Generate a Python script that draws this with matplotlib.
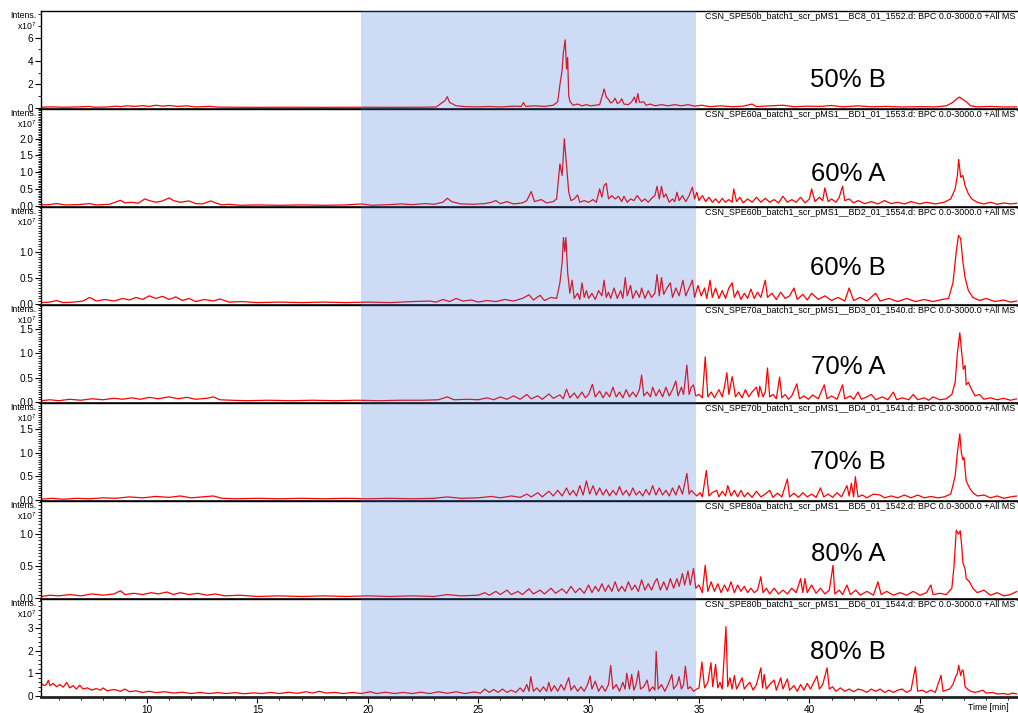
import matplotlib
matplotlib.use("Agg")
import matplotlib.pyplot as plt
from matplotlib.ticker import MultipleLocator, FixedLocator, FormatStrFormatter
import numpy as np

plt.rcParams['font.family'] = ['Liberation Sans', 'DejaVu Sans']
plt.rcParams['mathtext.default'] = 'regular'

# BPC traces, (time [min], intensity [x10^7])
p50b = [(5.2,0.03),(5.7,0.06),(6.2,0.03),(6.8,0.05),(7.4,0.1),(7.6,0.03),(8.2,0.05),(8.6,0.12),(8.8,0.08),(9.1,0.15),(9.4,0.1),(9.8,0.16),(10.1,0.1),(10.4,0.2),(10.7,0.12),(11.0,0.18),(11.4,0.1),(11.8,0.15),(12.2,0.05),(12.8,0.1),(13.2,0.04),(14.0,0.03),(15.0,0.02),(16.5,0.03),(18.0,0.02),(19.5,0.03),(21.0,0.02),(22.5,0.03),(23.1,0.05),(23.35,0.4),(23.5,0.6),(23.6,0.93),(23.7,0.45),(23.85,0.3),(24.0,0.15),(24.4,0.08),(25.0,0.06),(25.5,0.09),(26.0,0.05),(26.6,0.12),(26.95,0.1),(27.05,0.43),(27.15,0.1),(27.5,0.15),(28.0,0.1),(28.4,0.2),(28.6,0.5),(28.7,1.95),(28.8,3.2),(28.85,4.6),(28.94,5.8),(29.0,3.3),(29.05,4.3),(29.1,1.0),(29.16,0.5),(29.3,0.2),(29.5,0.3),(29.7,0.15),(29.9,0.25),(30.1,0.15),(30.3,0.2),(30.5,0.25),(30.6,0.9),(30.7,1.6),(30.8,0.9),(30.9,0.7),(31.0,0.4),(31.1,0.5),(31.2,0.8),(31.3,0.35),(31.4,0.45),(31.5,0.75),(31.6,0.3),(31.8,0.25),(31.95,0.5),(32.07,0.9),(32.15,0.4),(32.23,1.2),(32.3,0.45),(32.5,0.5),(32.6,0.2),(32.8,0.3),(33.0,0.15),(33.3,0.25),(33.6,0.15),(33.9,0.25),(34.2,0.15),(34.5,0.25),(34.8,0.12),(35.1,0.2),(35.5,0.08),(36.0,0.15),(36.5,0.07),(37.0,0.12),(37.4,0.3),(37.6,0.08),(38.2,0.15),(38.8,0.2),(39.3,0.07),(39.9,0.12),(40.5,0.1),(41.0,0.18),(41.5,0.06),(42.2,0.15),(42.8,0.07),(43.5,0.1),(44.2,0.05),(45.0,0.08),(45.7,0.06),(46.2,0.15),(46.5,0.45),(46.7,0.8),(46.8,0.9),(46.9,0.75),(47.1,0.5),(47.3,0.15),(47.6,0.06),(48.2,0.1),(48.8,0.05),(49.4,0.06)]

p60a = [(5.2,0.02),(5.6,0.03),(5.9,0.06),(6.3,0.02),(6.9,0.03),(7.4,0.06),(7.7,0.02),(8.3,0.04),(8.8,0.16),(9.0,0.08),(9.3,0.1),(9.6,0.07),(9.9,0.2),(10.1,0.15),(10.4,0.1),(10.7,0.14),(11.0,0.23),(11.2,0.15),(11.5,0.1),(11.9,0.14),(12.2,0.06),(12.5,0.05),(12.9,0.14),(13.1,0.08),(13.4,0.02),(13.7,0.04),(14.2,0.01),(15.0,0.02),(16.0,0.01),(17.0,0.02),(18.0,0.01),(19.0,0.02),(19.7,0.05),(20.2,0.01),(21.0,0.03),(21.5,0.05),(22.0,0.03),(22.6,0.06),(23.0,0.04),(23.4,0.1),(23.6,0.22),(23.8,0.12),(24.2,0.05),(24.8,0.04),(25.3,0.06),(25.6,0.1),(25.8,0.15),(26.0,0.06),(26.3,0.12),(26.6,0.05),(27.0,0.08),(27.2,0.15),(27.4,0.42),(27.55,0.12),(27.85,0.18),(28.1,0.08),(28.4,0.12),(28.55,0.2),(28.7,1.25),(28.8,0.9),(28.9,2.0),(29.0,1.2),(29.1,0.4),(29.2,0.15),(29.35,0.2),(29.5,0.32),(29.6,0.1),(29.8,0.15),(30.0,0.1),(30.2,0.18),(30.35,0.1),(30.5,0.5),(30.6,0.25),(30.7,0.6),(30.8,0.67),(30.9,0.2),(31.05,0.3),(31.2,0.2),(31.35,0.28),(31.5,0.12),(31.6,0.28),(31.75,0.1),(31.9,0.2),(32.05,0.15),(32.2,0.3),(32.4,0.12),(32.55,0.2),(32.7,0.1),(32.9,0.25),(33.0,0.3),(33.1,0.58),(33.2,0.2),(33.3,0.58),(33.4,0.25),(33.5,0.35),(33.65,0.1),(33.8,0.2),(33.9,0.12),(34.0,0.4),(34.1,0.15),(34.25,0.3),(34.4,0.12),(34.55,0.3),(34.7,0.55),(34.8,0.2),(34.9,0.4),(35.0,0.15),(35.15,0.3),(35.3,0.12),(35.45,0.25),(35.6,0.1),(35.75,0.2),(35.9,0.08),(36.05,0.22),(36.2,0.1),(36.35,0.18),(36.5,0.1),(36.57,0.5),(36.7,0.12),(36.85,0.25),(37.0,0.08),(37.2,0.2),(37.4,0.1),(37.6,0.25),(37.8,0.1),(38.0,0.22),(38.2,0.1),(38.4,0.18),(38.6,0.08),(38.8,0.28),(39.0,0.1),(39.2,0.18),(39.4,0.1),(39.6,0.25),(39.8,0.08),(40.0,0.2),(40.1,0.5),(40.25,0.12),(40.45,0.25),(40.6,0.15),(40.7,0.53),(40.85,0.12),(41.0,0.2),(41.2,0.1),(41.35,0.25),(41.5,0.58),(41.6,0.15),(41.8,0.2),(42.0,0.08),(42.2,0.15),(42.5,0.06),(42.8,0.12),(43.1,0.05),(43.4,0.15),(43.7,0.06),(44.0,0.1),(44.3,0.05),(44.6,0.12),(45.0,0.05),(45.3,0.1),(45.7,0.05),(46.1,0.1),(46.4,0.2),(46.6,0.5),(46.7,0.9),(46.76,1.38),(46.85,0.85),(46.95,0.9),(47.05,0.6),(47.2,0.35),(47.35,0.2),(47.6,0.1),(47.9,0.05),(48.2,0.1),(48.5,0.04),(48.8,0.08),(49.1,0.05),(49.4,0.07)]

p60b = [(5.2,0.02),(5.6,0.03),(5.9,0.06),(6.2,0.02),(6.7,0.03),(7.1,0.05),(7.4,0.12),(7.7,0.05),(8.1,0.08),(8.5,0.05),(8.9,0.1),(9.2,0.07),(9.5,0.12),(9.8,0.08),(10.1,0.15),(10.4,0.1),(10.7,0.14),(11.0,0.08),(11.3,0.13),(11.6,0.06),(11.9,0.1),(12.2,0.04),(12.6,0.08),(13.0,0.05),(13.3,0.09),(13.7,0.03),(14.3,0.04),(15.0,0.02),(16.0,0.03),(17.0,0.02),(18.0,0.03),(19.0,0.02),(20.0,0.03),(21.0,0.02),(22.0,0.04),(22.8,0.05),(23.1,0.03),(23.4,0.08),(23.7,0.04),(24.0,0.1),(24.3,0.05),(24.7,0.07),(25.0,0.03),(25.4,0.06),(25.8,0.04),(26.2,0.08),(26.6,0.05),(27.0,0.1),(27.3,0.17),(27.5,0.07),(27.8,0.16),(28.0,0.06),(28.3,0.12),(28.55,0.1),(28.7,0.4),(28.8,0.79),(28.86,1.27),(28.92,1.0),(28.97,1.27),(29.05,0.6),(29.15,0.2),(29.25,0.45),(29.35,0.1),(29.5,0.2),(29.6,0.08),(29.7,0.4),(29.8,0.12),(29.9,0.25),(30.0,0.1),(30.15,0.2),(30.3,0.08),(30.45,0.25),(30.6,0.15),(30.7,0.45),(30.8,0.12),(30.9,0.22),(31.0,0.1),(31.15,0.3),(31.3,0.1),(31.45,0.25),(31.55,0.1),(31.66,0.5),(31.75,0.15),(31.9,0.35),(32.0,0.1),(32.15,0.25),(32.3,0.12),(32.4,0.3),(32.55,0.1),(32.7,0.25),(32.85,0.12),(33.0,0.2),(33.1,0.56),(33.2,0.15),(33.3,0.5),(33.4,0.18),(33.55,0.3),(33.7,0.4),(33.8,0.12),(33.95,0.3),(34.1,0.15),(34.27,0.45),(34.4,0.15),(34.55,0.3),(34.7,0.45),(34.8,0.12),(34.95,0.35),(35.1,0.15),(35.25,0.3),(35.35,0.1),(35.5,0.45),(35.6,0.12),(35.75,0.3),(35.9,0.1),(36.05,0.25),(36.2,0.1),(36.35,0.3),(36.5,0.4),(36.6,0.12),(36.75,0.25),(36.9,0.08),(37.05,0.2),(37.2,0.1),(37.35,0.28),(37.5,0.1),(37.65,0.22),(37.8,0.12),(38.0,0.45),(38.1,0.12),(38.3,0.2),(38.5,0.08),(38.7,0.22),(38.9,0.1),(39.1,0.15),(39.3,0.3),(39.45,0.08),(39.7,0.18),(39.9,0.07),(40.1,0.2),(40.4,0.08),(40.7,0.15),(41.0,0.06),(41.3,0.12),(41.6,0.05),(41.8,0.3),(42.0,0.06),(42.3,0.12),(42.6,0.05),(43.0,0.2),(43.2,0.05),(43.6,0.1),(44.0,0.04),(44.4,0.1),(44.8,0.04),(45.2,0.08),(45.6,0.04),(46.0,0.08),(46.3,0.1),(46.5,0.4),(46.65,1.0),(46.75,1.31),(46.85,1.25),(46.95,0.8),(47.05,0.5),(47.2,0.25),(47.4,0.12),(47.7,0.06),(48.0,0.1),(48.4,0.04),(48.8,0.07),(49.1,0.03),(49.4,0.05)]

p70a = [(5.2,0.02),(5.6,0.04),(6.0,0.02),(6.5,0.05),(7.0,0.03),(7.5,0.06),(8.0,0.04),(8.5,0.07),(8.9,0.05),(9.3,0.08),(9.7,0.05),(10.1,0.09),(10.5,0.06),(11.0,0.1),(11.4,0.06),(11.8,0.09),(12.2,0.05),(12.7,0.07),(13.0,0.1),(13.3,0.04),(13.8,0.03),(14.5,0.02),(15.5,0.03),(16.5,0.02),(17.5,0.03),(18.5,0.02),(19.5,0.03),(20.5,0.02),(21.5,0.03),(22.5,0.03),(23.2,0.04),(23.6,0.1),(23.9,0.04),(24.5,0.05),(25.0,0.04),(25.4,0.08),(25.7,0.04),(26.0,0.1),(26.3,0.05),(26.6,0.12),(26.9,0.05),(27.2,0.15),(27.4,0.06),(27.7,0.12),(27.9,0.05),(28.2,0.16),(28.4,0.07),(28.7,0.14),(28.85,0.06),(29.0,0.26),(29.15,0.08),(29.35,0.18),(29.5,0.07),(29.7,0.2),(29.85,0.08),(30.0,0.15),(30.17,0.36),(30.3,0.1),(30.5,0.22),(30.65,0.08),(30.8,0.2),(30.95,0.1),(31.1,0.3),(31.25,0.1),(31.4,0.2),(31.55,0.08),(31.7,0.25),(31.85,0.1),(32.0,0.2),(32.15,0.1),(32.3,0.25),(32.4,0.55),(32.5,0.12),(32.65,0.2),(32.8,0.1),(32.9,0.3),(33.05,0.12),(33.2,0.25),(33.35,0.1),(33.5,0.3),(33.65,0.12),(33.8,0.25),(33.95,0.43),(34.05,0.12),(34.2,0.3),(34.3,0.15),(34.45,0.76),(34.55,0.15),(34.65,0.3),(34.75,0.35),(34.85,0.12),(35.0,0.15),(35.15,0.08),(35.28,0.93),(35.4,0.1),(35.55,0.2),(35.7,0.08),(35.9,0.25),(36.05,0.1),(36.15,0.3),(36.26,0.6),(36.35,0.15),(36.5,0.52),(36.55,0.4),(36.65,0.1),(36.8,0.2),(36.95,0.08),(37.1,0.25),(37.25,0.1),(37.4,0.2),(37.6,0.3),(37.7,0.1),(37.75,0.32),(37.9,0.1),(38.0,0.2),(38.1,0.7),(38.2,0.1),(38.35,0.15),(38.5,0.06),(38.65,0.51),(38.75,0.08),(38.9,0.15),(39.05,0.05),(39.2,0.12),(39.43,0.37),(39.55,0.06),(39.75,0.12),(39.95,0.05),(40.15,0.14),(40.4,0.06),(40.67,0.35),(40.8,0.06),(41.0,0.12),(41.25,0.05),(41.5,0.35),(41.6,0.06),(41.85,0.12),(42.0,0.05),(42.2,0.2),(42.35,0.05),(42.6,0.1),(42.8,0.15),(43.0,0.04),(43.3,0.1),(43.55,0.04),(43.8,0.2),(43.95,0.04),(44.2,0.08),(44.5,0.04),(44.7,0.15),(44.9,0.04),(45.2,0.08),(45.4,0.03),(45.6,0.1),(45.9,0.04),(46.2,0.06),(46.45,0.15),(46.6,0.4),(46.7,1.0),(46.81,1.43),(46.9,1.0),(46.97,0.67),(47.05,0.75),(47.1,0.35),(47.2,0.4),(47.35,0.25),(47.5,0.12),(47.7,0.15),(47.9,0.05),(48.2,0.08),(48.5,0.04),(48.8,0.07),(49.1,0.03),(49.4,0.06)]

p70b = [(5.2,0.01),(5.7,0.03),(6.2,0.01),(6.8,0.03),(7.4,0.02),(8.0,0.04),(8.6,0.03),(9.2,0.06),(9.8,0.04),(10.4,0.07),(11.0,0.05),(11.5,0.08),(12.0,0.04),(12.5,0.06),(13.0,0.08),(13.4,0.03),(14.0,0.02),(15.0,0.03),(16.0,0.02),(17.0,0.03),(18.0,0.02),(19.0,0.03),(20.0,0.02),(21.0,0.03),(22.0,0.02),(23.0,0.03),(23.6,0.06),(24.2,0.03),(25.0,0.04),(25.6,0.07),(26.0,0.04),(26.5,0.08),(26.9,0.05),(27.2,0.12),(27.4,0.06),(27.7,0.15),(27.9,0.06),(28.2,0.18),(28.4,0.08),(28.6,0.2),(28.8,0.08),(29.0,0.25),(29.15,0.1),(29.3,0.2),(29.45,0.08),(29.6,0.3),(29.75,0.1),(29.9,0.4),(30.05,0.12),(30.2,0.3),(30.35,0.1),(30.5,0.25),(30.65,0.1),(30.8,0.22),(30.95,0.08),(31.1,0.2),(31.25,0.1),(31.4,0.28),(31.55,0.1),(31.7,0.2),(31.85,0.08),(32.0,0.25),(32.15,0.1),(32.3,0.18),(32.45,0.08),(32.6,0.22),(32.75,0.1),(32.9,0.3),(33.05,0.1),(33.2,0.25),(33.35,0.1),(33.5,0.2),(33.65,0.08),(33.8,0.25),(33.95,0.1),(34.1,0.3),(34.25,0.12),(34.45,0.56),(34.55,0.12),(34.65,0.2),(34.75,0.15),(34.9,0.08),(35.05,0.15),(35.15,0.06),(35.33,0.62),(35.45,0.08),(35.6,0.15),(35.8,0.2),(35.9,0.06),(36.05,0.18),(36.2,0.08),(36.3,0.3),(36.45,0.08),(36.6,0.2),(36.75,0.06),(36.9,0.2),(37.05,0.06),(37.2,0.15),(37.4,0.05),(37.6,0.18),(37.8,0.06),(38.0,0.12),(38.2,0.2),(38.35,0.05),(38.55,0.14),(38.75,0.06),(39.0,0.44),(39.1,0.06),(39.3,0.14),(39.5,0.05),(39.7,0.15),(39.9,0.06),(40.1,0.12),(40.3,0.05),(40.5,0.25),(40.65,0.06),(40.85,0.12),(41.05,0.05),(41.25,0.15),(41.45,0.06),(41.7,0.3),(41.8,0.08),(41.9,0.35),(42.0,0.06),(42.08,0.49),(42.2,0.06),(42.4,0.1),(42.6,0.04),(42.9,0.12),(43.2,0.1),(43.4,0.04),(43.7,0.08),(44.0,0.04),(44.3,0.1),(44.6,0.04),(44.9,0.1),(45.2,0.04),(45.5,0.07),(45.8,0.04),(46.1,0.06),(46.4,0.12),(46.6,0.5),(46.7,1.0),(46.81,1.4),(46.88,1.0),(46.95,0.85),(47.0,0.9),(47.1,0.4),(47.25,0.25),(47.4,0.15),(47.6,0.08),(47.9,0.1),(48.2,0.04),(48.5,0.08),(48.8,0.03),(49.1,0.06),(49.4,0.08)]

p80a = [(5.2,0.02),(5.6,0.04),(6.0,0.03),(6.5,0.05),(7.0,0.03),(7.5,0.06),(8.0,0.04),(8.5,0.06),(8.8,0.11),(9.0,0.05),(9.4,0.07),(9.8,0.05),(10.2,0.08),(10.5,0.06),(10.9,0.09),(11.2,0.05),(11.5,0.08),(11.9,0.05),(12.3,0.07),(12.7,0.04),(13.1,0.06),(13.5,0.03),(14.2,0.04),(15.0,0.02),(16.0,0.03),(17.0,0.02),(18.0,0.03),(19.0,0.02),(20.0,0.03),(21.0,0.02),(22.0,0.03),(23.0,0.02),(23.6,0.05),(24.2,0.03),(25.0,0.04),(25.3,0.08),(25.5,0.04),(25.8,0.1),(26.0,0.05),(26.3,0.12),(26.5,0.05),(26.8,0.1),(27.0,0.05),(27.3,0.14),(27.5,0.06),(27.8,0.12),(28.0,0.06),(28.3,0.15),(28.5,0.07),(28.8,0.14),(29.0,0.07),(29.2,0.18),(29.4,0.08),(29.6,0.15),(29.8,0.07),(30.0,0.2),(30.15,0.08),(30.3,0.18),(30.45,0.1),(30.6,0.22),(30.75,0.1),(30.9,0.2),(31.05,0.1),(31.2,0.25),(31.35,0.1),(31.5,0.18),(31.65,0.1),(31.8,0.25),(31.95,0.12),(32.1,0.2),(32.25,0.1),(32.4,0.28),(32.55,0.12),(32.7,0.22),(32.85,0.12),(33.0,0.25),(33.1,0.3),(33.25,0.12),(33.4,0.25),(33.55,0.12),(33.7,0.3),(33.85,0.15),(34.0,0.3),(34.1,0.18),(34.25,0.38),(34.35,0.2),(34.5,0.42),(34.6,0.2),(34.75,0.46),(34.85,0.15),(35.0,0.2),(35.15,0.08),(35.28,0.51),(35.4,0.1),(35.55,0.25),(35.7,0.1),(35.85,0.22),(36.0,0.08),(36.15,0.2),(36.3,0.1),(36.45,0.25),(36.6,0.08),(36.75,0.2),(36.9,0.1),(37.05,0.18),(37.2,0.08),(37.35,0.15),(37.5,0.08),(37.65,0.12),(37.8,0.33),(37.9,0.08),(38.05,0.15),(38.2,0.06),(38.4,0.15),(38.6,0.06),(38.8,0.12),(39.0,0.06),(39.2,0.15),(39.4,0.08),(39.6,0.3),(39.7,0.08),(39.8,0.3),(39.9,0.08),(40.1,0.2),(40.3,0.07),(40.5,0.15),(40.7,0.06),(40.9,0.12),(41.07,0.51),(41.15,0.06),(41.35,0.12),(41.5,0.05),(41.7,0.2),(41.85,0.05),(42.1,0.12),(42.3,0.04),(42.6,0.1),(42.9,0.04),(43.1,0.25),(43.25,0.05),(43.5,0.1),(43.8,0.04),(44.1,0.08),(44.4,0.04),(44.7,0.1),(45.0,0.04),(45.3,0.08),(45.5,0.2),(45.6,0.05),(45.9,0.07),(46.2,0.05),(46.45,0.15),(46.55,0.5),(46.65,1.06),(46.75,1.0),(46.83,1.05),(46.9,0.8),(46.95,0.55),(47.05,0.45),(47.1,0.3),(47.25,0.25),(47.4,0.15),(47.6,0.08),(47.9,0.12),(48.2,0.04),(48.5,0.08),(48.8,0.03),(49.1,0.05),(49.4,0.1)]

p80b = [(5.2,0.55),(5.35,0.45),(5.45,0.51),(5.53,0.69),(5.6,0.45),(5.75,0.55),(5.9,0.4),(6.05,0.5),(6.2,0.38),(6.36,0.59),(6.5,0.35),(6.65,0.45),(6.8,0.3),(6.95,0.47),(7.1,0.3),(7.3,0.35),(7.5,0.25),(7.7,0.32),(7.9,0.25),(8.0,0.35),(8.2,0.22),(8.5,0.28),(8.8,0.2),(9.0,0.3),(9.2,0.18),(9.5,0.22),(9.8,0.15),(10.1,0.2),(10.4,0.14),(10.8,0.18),(11.2,0.12),(11.6,0.16),(12.0,0.1),(12.4,0.15),(12.8,0.1),(13.2,0.14),(13.6,0.1),(14.0,0.14),(14.4,0.09),(14.8,0.13),(15.2,0.1),(15.6,0.15),(16.0,0.1),(16.4,0.16),(16.8,0.11),(17.2,0.18),(17.5,0.12),(17.8,0.2),(18.1,0.12),(18.5,0.15),(18.9,0.1),(19.3,0.15),(19.7,0.1),(20.1,0.18),(20.4,0.1),(20.8,0.16),(21.2,0.1),(21.6,0.15),(22.0,0.1),(22.4,0.16),(22.8,0.1),(23.2,0.18),(23.6,0.11),(24.0,0.18),(24.4,0.1),(24.8,0.17),(25.1,0.12),(25.3,0.3),(25.5,0.15),(25.7,0.28),(25.9,0.15),(26.1,0.3),(26.3,0.15),(26.5,0.25),(26.7,0.15),(26.9,0.35),(27.05,0.18),(27.2,0.5),(27.3,0.2),(27.38,0.85),(27.5,0.2),(27.65,0.35),(27.8,0.18),(27.95,0.4),(28.1,0.2),(28.2,0.6),(28.3,0.2),(28.45,0.45),(28.6,0.2),(28.75,0.5),(28.9,0.25),(29.0,0.55),(29.1,0.8),(29.2,0.25),(29.35,0.45),(29.5,0.2),(29.65,0.4),(29.8,0.2),(29.95,0.5),(30.07,0.88),(30.15,0.3),(30.3,0.65),(30.45,0.2),(30.6,0.45),(30.75,0.2),(30.9,0.5),(31.0,1.35),(31.1,0.3),(31.25,0.5),(31.4,0.2),(31.55,0.6),(31.65,0.3),(31.73,1.0),(31.85,0.3),(31.95,0.95),(32.05,0.25),(32.15,0.5),(32.26,1.1),(32.35,0.3),(32.5,0.4),(32.65,0.7),(32.75,0.2),(32.9,0.4),(33.0,0.25),(33.06,1.97),(33.15,0.3),(33.3,0.5),(33.45,0.2),(33.6,0.5),(33.77,0.95),(33.85,0.3),(34.0,0.5),(34.1,0.85),(34.2,0.3),(34.3,0.5),(34.38,1.31),(34.5,0.3),(34.6,0.4),(34.75,0.2),(34.9,0.3),(35.0,0.35),(35.13,1.5),(35.25,0.35),(35.4,0.6),(35.54,1.47),(35.62,0.4),(35.75,1.4),(35.85,0.35),(35.95,0.6),(36.05,0.3),(36.22,3.07),(36.3,0.4),(36.4,0.8),(36.5,0.3),(36.6,0.9),(36.7,0.3),(36.85,0.6),(36.95,0.8),(37.05,0.3),(37.2,0.5),(37.3,0.6),(37.45,0.25),(37.6,0.5),(37.8,1.24),(37.88,0.35),(37.95,0.95),(38.05,0.3),(38.2,0.5),(38.4,0.7),(38.5,0.25),(38.7,0.8),(38.8,0.3),(39.0,0.75),(39.1,0.25),(39.3,0.45),(39.45,0.2),(39.6,0.5),(39.75,0.25),(39.9,0.55),(40.05,0.3),(40.2,0.6),(40.34,0.88),(40.45,0.3),(40.6,0.5),(40.8,1.24),(40.9,0.3),(41.05,0.4),(41.2,0.2),(41.4,0.35),(41.6,0.2),(41.8,0.3),(42.0,0.18),(42.2,0.3),(42.4,0.25),(42.6,0.15),(42.8,0.3),(43.0,0.2),(43.2,0.3),(43.4,0.15),(43.6,0.25),(43.8,0.15),(44.0,0.25),(44.2,0.3),(44.4,0.15),(44.6,0.25),(44.8,1.29),(44.9,0.2),(45.1,0.25),(45.3,0.15),(45.5,0.25),(45.7,0.15),(45.96,0.91),(46.05,0.2),(46.2,0.25),(46.35,0.3),(46.5,0.5),(46.6,0.8),(46.7,1.0),(46.76,1.35),(46.85,0.9),(46.92,1.15),(46.97,1.1),(47.05,0.4),(47.15,0.3),(47.3,0.2),(47.5,0.15),(47.7,0.2),(47.85,0.25),(48.0,0.12),(48.3,0.15),(48.5,0.08),(48.8,0.1),(49.0,0.06),(49.2,0.12),(49.4,0.08)]

traces = [p50b, p60a, p60b, p70a, p70b, p80a, p80b]
labels = ["50% B", "60% A", "60% B", "70% A", "70% B", "80% A", "80% B"]
files = [
    "CSN_SPE50b_batch1_scr_pMS1__BC8_01_1552.d",
    "CSN_SPE60a_batch1_scr_pMS1__BD1_01_1553.d",
    "CSN_SPE60b_batch1_scr_pMS1__BD2_01_1554.d",
    "CSN_SPE70a_batch1_scr_pMS1__BD3_01_1540.d",
    "CSN_SPE70b_batch1_scr_pMS1__BD4_01_1541.d",
    "CSN_SPE80a_batch1_scr_pMS1__BD5_01_1542.d",
    "CSN_SPE80b_batch1_scr_pMS1__BD6_01_1544.d",
]
window = (19.7, 34.85)  # highlighted retention window [min]

# axis settings per panel
y_top = [8.3, 2.9, 1.86, 2.01, 2.06, 1.52, 4.3]
y_major = [2, 0.5, 0.5, 0.5, 0.5, 0.5, 1]
y_last = [6, 2.0, 1.0, 1.5, 1.5, 1.0, 3]   # highest labelled tick
y_minor = [1, 0.05, 0.05, 0.05, 0.05, 0.05, 0.2]
y_fmt = ["%d", "%.1f", "%.1f", "%.1f", "%.1f", "%.1f", "%d"]
label_y = [0.29, 0.33, 0.38, 0.37, 0.40, 0.46, 0.46]

fig, axes = plt.subplots(7, 1, figsize=(10.18, 7.13), dpi=100, sharex=True)
fig.subplots_adjust(left=0.0403, right=0.999, top=0.985, bottom=0.0225, hspace=0)

for i, ax in enumerate(axes):
    t, y = np.array(traces[i]).T
    ax.plot(t, y, color="#ff0000", lw=0.9, zorder=2)
    ax.axvspan(*window, color="#3a75d6", alpha=0.25, lw=0, zorder=4)
    ax.set_xlim(5.2, 49.4)
    ax.set_ylim(-0.012 * y_top[i], y_top[i])

    ax.spines["right"].set_visible(False)
    ax.spines["left"].set_linewidth(1.0)
    ax.spines["top"].set_linewidth(1.0)
    ax.spines["bottom"].set_linewidth(2.0)
    ax.spines["bottom"].set_color("#222222")

    ax.yaxis.set_major_locator(FixedLocator(np.arange(0, y_last[i] + 1e-6, y_major[i])))
    ax.yaxis.set_minor_locator(MultipleLocator(y_minor[i]))
    ax.yaxis.set_major_formatter(FormatStrFormatter(y_fmt[i]))
    ax.tick_params(axis="y", which="major", direction="out", length=4, width=0.8, pad=1.5, labelsize=7.2)
    ax.tick_params(axis="y", which="minor", direction="out", length=2, width=0.6)

    ax.text(-0.005, 0.95, "Intens.", transform=ax.transAxes, ha="right", va="center", fontsize=6.3)
    ax.text(-0.005, 0.845, r"x10$^7$", transform=ax.transAxes, ha="right", va="center", fontsize=6.3)
    ax.text(0.998, 0.94, files[i] + ": BPC 0.0-3000.0 +All MS", transform=ax.transAxes,
            ha="right", va="center", fontsize=6.4)
    ax.text(41.75, label_y[i], labels[i], transform=ax.get_xaxis_transform(),
            ha="center", va="center", fontsize=18.5)

    if i < 6:
        ax.tick_params(axis="x", which="both", bottom=False, labelbottom=False)

bottom = axes[-1]
bottom.xaxis.set_major_locator(MultipleLocator(5))
bottom.xaxis.set_minor_locator(MultipleLocator(1))
bottom.tick_params(axis="x", which="major", direction="out", length=4, width=0.8, pad=1.5, labelsize=7.2)
bottom.tick_params(axis="x", which="minor", direction="out", length=2.5, width=0.6)
bottom.text(0.971, -0.105, "Time [min]", transform=bottom.transAxes, ha="center", va="center", fontsize=6.3)

fig.savefig("out.png", dpi=100)
